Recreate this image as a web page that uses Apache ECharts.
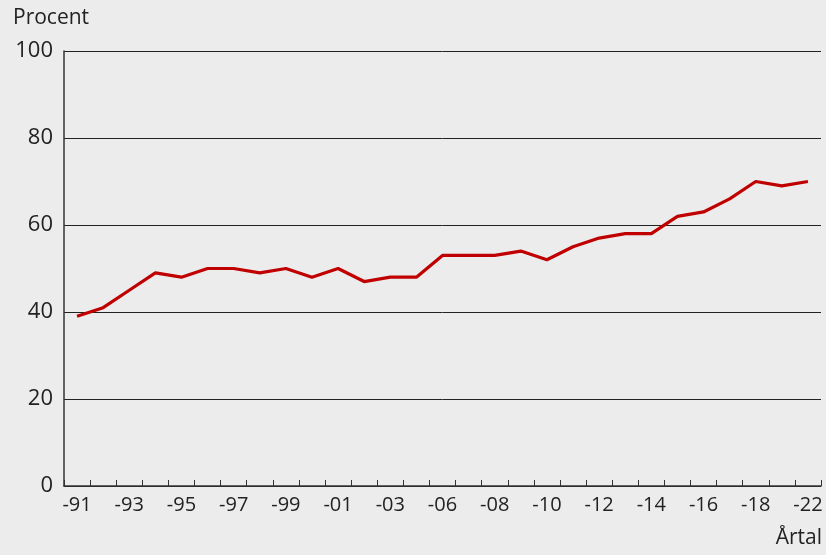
<!DOCTYPE html>
<html>
<head>
<meta charset="utf-8">
<script src="https://cdn.jsdelivr.net/npm/echarts@6/dist/echarts.min.js"></script>
<style>
  html, body { margin: 0; padding: 0; background: #ececec; }
  #chart-container { width: 826px; height: 555px; }
</style>
</head>
<body>
<div id="chart-container"></div>
<script>
var dom = document.getElementById('chart-container');
var myChart = echarts.init(dom, null, { renderer: 'canvas' });

// years shown on the axis (2005, 2020 and 2021 are not in the series)
var years = ['-91', '-92', '-93', '-94', '-95', '-96', '-97', '-98', '-99', '-00',
    '-01', '-02', '-03', '-04', '-06', '-07', '-08', '-09', '-10', '-11',
    '-12', '-13', '-14', '-15', '-16', '-17', '-18', '-19', '-22'];
var procent = [39, 41, 45, 49, 48, 50, 50, 49, 50, 48,
    50, 47, 48, 48, 53, 53, 53, 54, 52, 55,
    57, 58, 58, 62, 63, 66, 70, 69, 70];
var yTicks = [0, 20, 40, 60, 80, 100];

var font = '"Open Sans", "Noto Sans", sans-serif';

var option = {
    backgroundColor: '#ececec',
    animation: false,
    grid: { left: 64, right: 5, top: 51, bottom: 69 },
    xAxis: {
        type: 'category',
        data: years,
        boundaryGap: true,
        axisLine: { lineStyle: { color: '#333', width: 1.5 } },
        axisTick: { show: true, inside: true, length: 6, interval: 0, lineStyle: { color: '#333' } },
        axisLabel: { interval: 1, color: '#222', fontSize: 20, fontFamily: font, margin: 9 }
    },
    yAxis: {
        type: 'value',
        min: yTicks[0],
        max: yTicks[yTicks.length - 1],
        interval: 20,
        axisLine: { show: true, lineStyle: { color: '#333', width: 1.5 } },
        axisTick: { show: false },
        axisLabel: { color: '#222', fontSize: 22, fontFamily: font, margin: 11 },
        splitLine: { lineStyle: { color: '#222', width: 1 } }
    },
    graphic: [
        { type: 'text', left: 13, top: 8, style: { text: 'Procent', fontSize: 21, fontFamily: font, fill: '#222' } },
        { type: 'text', right: 4, top: 528, style: { text: 'Årtal', fontSize: 21, fontFamily: font, fill: '#222' } }
    ],
    series: [{
        type: 'line',
        data: procent,
        symbol: 'none',
        lineStyle: { color: '#c00000', width: 3.2 }
    }]
};

myChart.setOption(option);
window.addEventListener('resize', myChart.resize);
</script>
</body>
</html>
